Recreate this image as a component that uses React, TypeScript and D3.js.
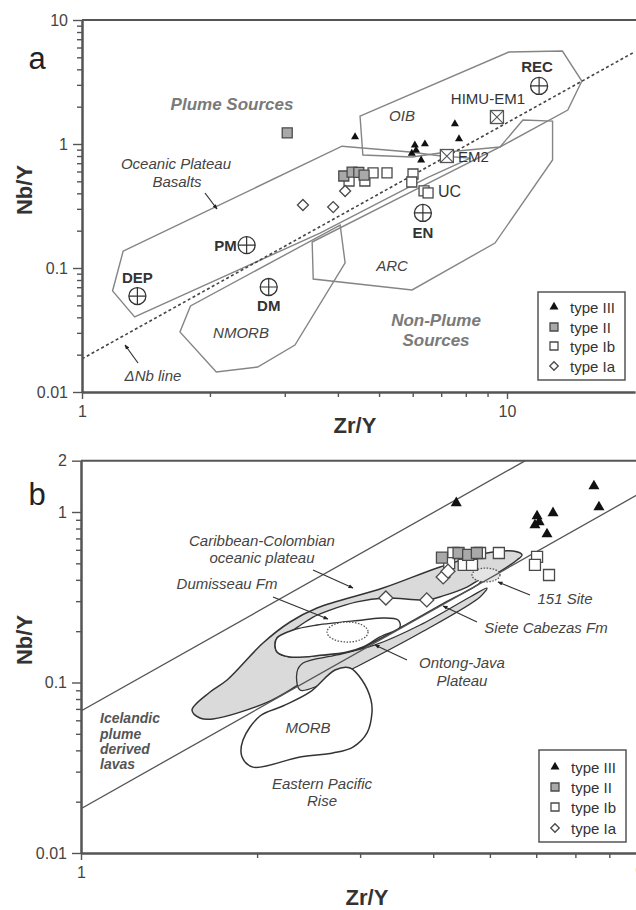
import React, { useEffect, useRef } from "react";
import * as d3 from "d3";

type Pt = [number, number];

// ---------------- Panel a : samples (Zr/Y, Nb/Y) ----------------
const aTypeIII: Pt[] = [[4.39, 1.14], [6.07, 0.98], [6.41, 1.0], [6.11, 0.89], [5.97, 0.84], [6.28, 0.74], [7.54, 1.45], [7.71, 1.1]];
const aTypeII: Pt[] = [[3.04, 1.23], [4.13, 0.552], [4.32, 0.594], [4.48, 0.59], [4.61, 0.562]];
const aTypeIb: Pt[] = [[4.25, 0.503], [4.63, 0.503], [4.84, 0.584], [5.22, 0.584], [6.01, 0.573], [5.97, 0.494], [6.38, 0.418]];
const aTypeIa: Pt[] = [[3.31, 0.322], [3.9, 0.31], [4.16, 0.418]];

// reference reservoirs (panel a)
const refCircleNames = ["REC", "EN", "PM", "DEP", "DM"];
const refCircleZrY = [11.9, 6.34, 2.44, 1.35, 2.75];
const refCircleNbY = [2.94, 0.278, 0.153, 0.0594, 0.0703];
const refBoxNames = ["HIMU-EM1", "EM2"];
const refBoxZrY = [9.47, 7.22];
const refBoxNbY = [1.65, 0.8];
const refSquareNames = ["UC"];
const refSquareZrY = [6.52];
const refSquareNbY = [0.403];

// fields (panel a)
const aOIB: Pt[] = [[4.51, 1.68], [10.1, 5.52], [13.5, 5.62], [15.0, 3.22], [13.9, 1.88], [9.63, 0.946], [7.22, 0.862], [5.98, 0.785], [4.58, 0.815]];
const aOPB: Pt[] = [[1.25, 0.137], [4.09, 0.96], [5.91, 0.862], [7.0, 0.8], [8.2, 0.77], [6.48, 0.532], [3.63, 0.191], [1.33, 0.0403], [1.18, 0.0653]];
const aARC: Pt[] = [[3.48, 0.162], [3.5, 0.0815], [5.98, 0.0665], [9.37, 0.159], [12.8, 0.743], [12.8, 1.53], [10.9, 1.56], [9.63, 0.946], [6.48, 0.476]];
const aNMORB: Pt[] = [[1.8, 0.0494], [1.7, 0.0305], [2.07, 0.0145], [2.59, 0.0159], [3.17, 0.0239], [4.16, 0.11], [4.05, 0.222]];
const aDeltaNb: Pt[] = [[1, 0.0185], [20, 5.55]];

// ---------------- Panel b : samples ----------------
const bTypeIII: Pt[] = [[4.38, 1.13], [7.53, 1.42], [7.68, 1.07], [6.41, 0.987], [6.02, 0.947], [6.07, 0.874], [5.97, 0.839], [6.26, 0.743]];
const bTypeII: Pt[] = [[4.14, 0.54], [4.42, 0.575], [4.59, 0.56], [4.75, 0.575]];
const bTypeIb: Pt[] = [[4.33, 0.575], [4.26, 0.502], [4.51, 0.489], [4.66, 0.489], [4.81, 0.575], [5.18, 0.575], [6.02, 0.545], [5.97, 0.489], [6.31, 0.427]];
const bTypeIa: Pt[] = [[3.32, 0.313], [3.9, 0.305], [4.16, 0.416], [4.24, 0.45]];

// fields (panel b)
const bIceUpper: Pt[] = [[1, 0.068], [5.75, 2]];
const bIceLower: Pt[] = [[1, 0.0182], [9, 1.28]];
const bCaribbean: Pt[] = [[1.548, 0.069], [1.662, 0.088], [1.777, 0.1034], [2.047, 0.1705], [2.277, 0.2264], [2.532, 0.2735], [3.283, 0.358], [4.109, 0.476], [4.943, 0.575], [5.476, 0.59], [5.673, 0.56], [5.563, 0.523], [5.2, 0.447], [4.5, 0.34], [3.51, 0.21], [2.8, 0.137], [2.368, 0.098], [2.08, 0.0765], [1.681, 0.0611], [1.597, 0.0619]];
const bOntongJava: Pt[] = [[2.34, 0.1152], [2.396, 0.1301], [2.74, 0.145], [3.182, 0.166], [3.798, 0.2174], [4.624, 0.3173], [4.943, 0.358], [4.809, 0.3173], [3.798, 0.195], [2.999, 0.1266], [2.562, 0.0967], [2.368, 0.0904]];
const bSieteCabezas: Pt[] = [[4.809, 0.4], [4.569, 0.363], [4.157, 0.322], [3.904, 0.305], [3.308, 0.313], [2.963, 0.297], [2.665, 0.266], [2.493, 0.242], [2.304, 0.2032], [2.163, 0.1824], [2.146, 0.166], [2.163, 0.151], [2.277, 0.1411], [2.593, 0.145], [2.85, 0.151], [3.034, 0.1615], [3.5, 0.208], [4.2, 0.296], [4.809, 0.385]];
const bDumisseau: Pt[] = [[2.163, 0.1824], [2.304, 0.2032], [2.532, 0.2174], [3.034, 0.2326], [3.283, 0.239], [3.483, 0.2326], [3.51, 0.2116], [3.244, 0.1849], [3.034, 0.1615], [2.85, 0.151], [2.593, 0.145], [2.277, 0.1411], [2.163, 0.151], [2.146, 0.166]];
const bMORB: Pt[] = [[1.968, 0.0319], [1.885, 0.0366], [1.892, 0.046], [2.023, 0.0636], [2.214, 0.0728], [2.464, 0.088], [2.718, 0.1184], [2.884, 0.1216], [3.022, 0.1034], [3.131, 0.079], [3.143, 0.0662], [3.083, 0.0506], [2.917, 0.0418], [2.697, 0.0386], [2.368, 0.0366]];
// dotted ellipses: [xmin, xmax], [ymin, ymax]
const b151SiteX: Pt = [4.66, 5.203];
const b151SiteY: Pt = [0.389, 0.469];
const bDumEllX: Pt = [2.634, 3.095];
const bDumEllY: Pt = [0.1727, 0.2264];

const legendNames = ["type III", "type II", "type Ib", "type Ia"];
const yTickLabelsA = [0.01, 0.1, 1, 10];
const xTickLabelsA = [1, 10];
const yTickLabelsB = [0.01, 0.1, 1, 2];
const xTickLabelsB = [1, 9];

const FONT = "'Liberation Sans', Arial, Helvetica, sans-serif";

const labelLayout: Record<string, { dx: number; dy: number; anchor: string; bold: boolean }> = {
  REC: { dx: -2, dy: -19, anchor: "middle", bold: true },
  EN: { dx: 0, dy: 20, anchor: "middle", bold: true },
  PM: { dx: -10, dy: 0, anchor: "end", bold: true },
  DEP: { dx: 0, dy: -19, anchor: "middle", bold: true },
  DM: { dx: 0, dy: 19, anchor: "middle", bold: true },
  "HIMU-EM1": { dx: -9, dy: -19, anchor: "middle", bold: false },
  EM2: { dx: 11, dy: 0, anchor: "start", bold: false },
  UC: { dx: 10, dy: -1, anchor: "start", bold: false },
};

export default function App() {
  const ref = useRef<SVGSVGElement>(null);

  useEffect(() => {
    const svg = d3.select(ref.current as SVGSVGElement);
    svg.selectAll("*").remove();
    const defs = svg.append("defs");
    defs
      .append("marker")
      .attr("id", "ah")
      .attr("viewBox", "0 0 10 10")
      .attr("refX", 9)
      .attr("refY", 5)
      .attr("markerWidth", 5)
      .attr("markerHeight", 5)
      .attr("markerUnits", "userSpaceOnUse")
      .attr("orient", "auto")
      .append("path")
      .attr("d", "M0,1L10,5L0,9z")
      .attr("fill", "#222");

    const text = (g: any, x: number, y: number, s: string, o: any = {}) =>
      g
        .append("text")
        .attr("x", x)
        .attr("y", y)
        .attr("text-anchor", o.anchor || "middle")
        .attr("dominant-baseline", "central")
        .attr("font-family", FONT)
        .attr("font-size", o.size || 15)
        .attr("font-weight", o.bold ? "bold" : "normal")
        .attr("font-style", o.italic ? "italic" : "normal")
        .attr("fill", o.fill || "#333")
        .text(s);

    const arrow = (g: any, x1: number, y1: number, x2: number, y2: number) =>
      g
        .append("line")
        .attr("x1", x1)
        .attr("y1", y1)
        .attr("x2", x2)
        .attr("y2", y2)
        .attr("stroke", "#333")
        .attr("stroke-width", 1.2)
        .attr("marker-end", "url(#ah)");

    const sym = (type: any, size: number) => d3.symbol().type(type).size(size)() as string;

    const drawPts = (g: any, pts: Pt[], x: any, y: any, kind: string, w: number) => {
      const d =
        kind === "tri"
          ? sym(d3.symbolTriangle, 0.433 * w * w)
          : kind === "dia"
          ? sym(d3.symbolSquare, (w * w) / 2)
          : sym(d3.symbolSquare, w * w);
      g.selectAll(null)
        .data(pts)
        .join("path")
        .attr("transform", (p: Pt) => `translate(${x(p[0])},${y(p[1])})` + (kind === "dia" ? " rotate(45)" : ""))
        .attr("d", d)
        .attr("fill", kind === "tri" ? "#111" : kind === "grey" ? "#a9a9a9" : "#fff")
        .attr("stroke", kind === "tri" ? "none" : "#4a4a4a")
        .attr("stroke-width", 1.3);
    };

    const drawAxes = (g: any, x: any, y: any, x0: number, yb: number, xLab: number[], yLab: number[], xMax: number) => {
      const st = (sel: any) => {
        sel.select(".domain").attr("stroke", "#555").attr("stroke-width", 2);
        sel.selectAll(".tick line").attr("stroke", "#555").attr("stroke-width", 1.4);
        sel.selectAll(".tick text").attr("fill", "#444").attr("font-size", 16).attr("font-family", FONT);
      };
      const yt = y.ticks().filter((t: number) => !yLab.includes(t));
      const xt = x.ticks().filter((t: number) => !xLab.includes(t) && t <= xMax);
      g.append("g").attr("transform", `translate(${x0},0)`).call(d3.axisLeft(y).tickValues(yt).tickSize(5).tickSizeOuter(0).tickFormat(() => "")).call(st);
      g.append("g").attr("transform", `translate(${x0},0)`).call(d3.axisLeft(y).tickValues(yLab).tickSize(9).tickSizeOuter(0).tickPadding(5).tickFormat((d: any) => String(d))).call(st);
      g.append("g").attr("transform", `translate(0,${yb})`).call(d3.axisBottom(x).tickValues(xt).tickSize(5).tickSizeOuter(0).tickFormat(() => "")).call(st);
      g.append("g").attr("transform", `translate(0,${yb})`).call(d3.axisBottom(x).tickValues(xLab).tickSize(7).tickSizeOuter(0).tickPadding(7).tickFormat((d: any) => String(d))).call(st);
    };

    const legend = (g: any, x0: number, y0: number, w: number, h: number, rows: number[], size: number) => {
      g.append("rect").attr("x", x0).attr("y", y0).attr("width", w).attr("height", h).attr("fill", "#fff").attr("stroke", "#555").attr("stroke-width", 1.5);
      const kinds = ["tri", "grey", "open", "dia"];
      legendNames.forEach((n, i) => {
        const sx = x0 + 16;
        const sy = rows[i];
        const k = kinds[i];
        const d = k === "tri" ? sym(d3.symbolTriangle, 0.433 * 81) : k === "dia" ? sym(d3.symbolSquare, 36) : sym(d3.symbolSquare, 64);
        g.append("path")
          .attr("d", d)
          .attr("transform", `translate(${sx},${sy})` + (k === "dia" ? " rotate(45)" : ""))
          .attr("fill", k === "tri" ? "#111" : k === "grey" ? "#a9a9a9" : "#fff")
          .attr("stroke", k === "tri" ? "none" : "#4a4a4a")
          .attr("stroke-width", 1.3);
        text(g, x0 + 32, sy, n, { anchor: "start", size: 15, fill: "#333" });
      });
    };

    // ================= Panel a =================
    const xa = d3.scaleLog().domain([1, 20]).range([82, 82 + 425 * Math.log10(20)]);
    const ya = d3.scaleLog().domain([0.01, 10]).range([392, 20]);
    defs.append("clipPath").attr("id", "clipA").append("rect").attr("x", 82).attr("y", 20).attr("width", 600).attr("height", 372);
    const ga = svg.append("g");
    const pa = ga.append("g").attr("clip-path", "url(#clipA)");
    const lineA = d3.line<Pt>().x((d) => xa(d[0])).y((d) => ya(d[1]));
    [aOIB, aOPB, aARC, aNMORB].forEach((poly) =>
      pa.append("path").attr("d", lineA.curve(d3.curveLinearClosed)(poly)).attr("fill", "none").attr("stroke", "#858585").attr("stroke-width", 1.4)
    );
    pa.append("path")
      .attr("d", d3.line<Pt>().x((d) => xa(d[0])).y((d) => ya(d[1]))(aDeltaNb))
      .attr("fill", "none")
      .attr("stroke", "#444")
      .attr("stroke-width", 1.6)
      .attr("stroke-dasharray", "3,2.5");

    // region labels
    text(pa, 232, 104, "Plume Sources", { size: 17, bold: true, italic: true, fill: "#7a7a7a" });
    text(pa, 436, 320, "Non-Plume", { size: 17, bold: true, italic: true, fill: "#7a7a7a" });
    text(pa, 436, 340, "Sources", { size: 17, bold: true, italic: true, fill: "#7a7a7a" });
    text(pa, 176, 163, "Oceanic Plateau", { italic: true, fill: "#444" });
    text(pa, 177, 181, "Basalts", { italic: true, fill: "#444" });
    arrow(pa, 205, 193, 217, 209);
    text(pa, 402, 115, "OIB", { italic: true, fill: "#444" });
    text(pa, 241, 332, "NMORB", { italic: true, fill: "#444" });
    text(pa, 392, 265, "ARC", { italic: true, fill: "#444" });
    text(pa, 153, 375, "\u0394Nb line", { italic: true, fill: "#444" });
    arrow(pa, 138, 363, 125, 345);

    // samples
    drawPts(pa, aTypeIb, xa, ya, "open", 10);
    drawPts(pa, aTypeII, xa, ya, "grey", 10);
    drawPts(pa, aTypeIa, xa, ya, "dia", 11);
    drawPts(pa, aTypeIII, xa, ya, "tri", 8);

    // reference reservoirs
    refCircleNames.forEach((n, i) => {
      const cx = xa(refCircleZrY[i]);
      const cy = ya(refCircleNbY[i]);
      pa.append("circle").attr("cx", cx).attr("cy", cy).attr("r", 8.5).attr("fill", "none").attr("stroke", "#333").attr("stroke-width", 1.3);
      pa.append("path").attr("d", `M${cx - 8.5},${cy}H${cx + 8.5}M${cx},${cy - 8.5}V${cy + 8.5}`).attr("stroke", "#333").attr("stroke-width", 1.2);
      const L = labelLayout[n];
      text(pa, cx + L.dx, cy + L.dy, n, { anchor: L.anchor, bold: L.bold, fill: "#333" });
    });
    refBoxNames.forEach((n, i) => {
      const cx = xa(refBoxZrY[i]);
      const cy = ya(refBoxNbY[i]);
      pa.append("rect").attr("x", cx - 6.5).attr("y", cy - 6.5).attr("width", 13).attr("height", 13).attr("fill", "#fff").attr("stroke", "#555").attr("stroke-width", 1.3);
      pa.append("path").attr("d", `M${cx - 6.5},${cy - 6.5}L${cx + 6.5},${cy + 6.5}M${cx + 6.5},${cy - 6.5}L${cx - 6.5},${cy + 6.5}`).attr("stroke", "#555").attr("stroke-width", 1.1);
      const L = labelLayout[n];
      text(pa, cx + L.dx, cy + L.dy, n, { anchor: L.anchor, bold: L.bold, fill: "#333" });
    });
    refSquareNames.forEach((n, i) => {
      const cx = xa(refSquareZrY[i]);
      const cy = ya(refSquareNbY[i]);
      pa.append("rect").attr("x", cx - 5).attr("y", cy - 5).attr("width", 10).attr("height", 10).attr("fill", "#fff").attr("stroke", "#4a4a4a").attr("stroke-width", 1.3);
      const L = labelLayout[n];
      text(pa, cx + L.dx, cy + L.dy, n, { anchor: L.anchor, bold: L.bold, fill: "#333", size: 16 });
    });

    legend(pa, 538, 292, 87, 88, [307, 327, 346, 366], 9);

    ga.append("line").attr("x1", 82).attr("x2", 700).attr("y1", 20).attr("y2", 20).attr("stroke", "#555").attr("stroke-width", 2);
    drawAxes(ga, xa, ya, 82, 392, xTickLabelsA, yTickLabelsA, 10);
    text(ga, 355, 425, "Zr/Y", { size: 22, bold: true, fill: "#333" });
    ga.append("text")
      .attr("transform", "translate(24,190) rotate(-90)")
      .attr("text-anchor", "middle")
      .attr("dominant-baseline", "central")
      .attr("font-family", FONT)
      .attr("font-size", 22)
      .attr("font-weight", "bold")
      .attr("fill", "#333")
      .text("Nb/Y");
    text(ga, 37, 58, "a", { size: 31, fill: "#222" });

    // ================= Panel b =================
    const xb = d3.scaleLog().domain([1, 9]).range([81, 81 + 585 * Math.log10(9)]);
    const yb = d3.scaleLog().domain([0.01, 2]).range([853, 853 - 170.5 * Math.log10(200)]);
    const yTop = yb(2);
    defs.append("clipPath").attr("id", "clipB").append("rect").attr("x", 81).attr("y", yTop).attr("width", 600).attr("height", 853 - yTop);
    const gb = svg.append("g");
    const pb = gb.append("g").attr("clip-path", "url(#clipB)");
    const smooth = d3.line<Pt>().x((d) => xb(d[0])).y((d) => yb(d[1])).curve(d3.curveCatmullRomClosed.alpha(0.5));
    const straight = d3.line<Pt>().x((d) => xb(d[0])).y((d) => yb(d[1]));

    pb.append("path").attr("d", smooth(bCaribbean)).attr("fill", "#dadada").attr("stroke", "#333").attr("stroke-width", 1.5);
    pb.append("path").attr("d", smooth(bOntongJava)).attr("fill", "#dadada").attr("stroke", "#333").attr("stroke-width", 1.3);
    pb.append("path").attr("d", smooth(bSieteCabezas)).attr("fill", "#fff").attr("stroke", "#333").attr("stroke-width", 1.4);
    pb.append("path").attr("d", smooth(bDumisseau)).attr("fill", "#fff").attr("stroke", "#333").attr("stroke-width", 1.4);
    pb.append("path").attr("d", smooth(bMORB)).attr("fill", "#fff").attr("stroke", "#333").attr("stroke-width", 1.5);

    const ellipse = (ex: Pt, ey: Pt, fill: string) => {
      const x1 = xb(ex[0]), x2 = xb(ex[1]), y1 = yb(ey[1]), y2 = yb(ey[0]);
      pb.append("ellipse")
        .attr("cx", (x1 + x2) / 2)
        .attr("cy", (y1 + y2) / 2)
        .attr("rx", (x2 - x1) / 2)
        .attr("ry", (y2 - y1) / 2)
        .attr("fill", fill)
        .attr("stroke", "#555")
        .attr("stroke-width", 1.3)
        .attr("stroke-dasharray", "1.5,1.5");
    };
    ellipse(bDumEllX, bDumEllY, "#fff");
    ellipse(b151SiteX, b151SiteY, "#e4e4e4");

    [bIceUpper, bIceLower].forEach((l) =>
      pb.append("path").attr("d", straight(l)).attr("fill", "none").attr("stroke", "#555").attr("stroke-width", 1.3)
    );

    // labels
    text(pb, 262, 540, "Caribbean-Colombian", { italic: true, fill: "#444" });
    text(pb, 262, 557, "oceanic plateau", { italic: true, fill: "#444" });
    arrow(pb, 313, 570, 353, 588);
    text(pb, 227, 583, "Dumisseau Fm", { italic: true, fill: "#444" });
    arrow(pb, 273, 597, 328, 619);
    text(pb, 565, 598, "151 Site", { italic: true, fill: "#444" });
    arrow(pb, 530, 595, 498, 582);
    text(pb, 546, 627, "Siete Cabezas Fm", { italic: true, fill: "#444" });
    arrow(pb, 477, 622, 443, 606);
    text(pb, 462, 662, "Ontong-Java", { italic: true, fill: "#444" });
    text(pb, 462, 680, "Plateau", { italic: true, fill: "#444" });
    arrow(pb, 407, 660, 375, 645);
    text(pb, 308, 727, "MORB", { italic: true, fill: "#444" });
    text(pb, 322, 783, "Eastern Pacific", { italic: true, fill: "#444" });
    text(pb, 322, 800, "Rise", { italic: true, fill: "#444" });
    ["Icelandic", "plume", "derived", "lavas"].forEach((s, i) =>
      text(pb, 100, [718, 734, 749, 764][i], s, { anchor: "start", size: 14, bold: true, italic: true, fill: "#555" })
    );

    drawPts(pb, bTypeIb, xb, yb, "open", 11);
    drawPts(pb, bTypeII, xb, yb, "grey", 11);
    drawPts(pb, bTypeIa, xb, yb, "dia", 14);
    drawPts(pb, bTypeIII, xb, yb, "tri", 11);

    legend(pb, 539, 750, 87, 92, [767, 787, 807, 828], 9);

    gb.append("line").attr("x1", 81).attr("x2", 700).attr("y1", yTop).attr("y2", yTop).attr("stroke", "#555").attr("stroke-width", 2);
    drawAxes(gb, xb, yb, 81, 853, xTickLabelsB, yTickLabelsB, 9);
    text(gb, 367, 897, "Zr/Y", { size: 22, bold: true, fill: "#333" });
    gb.append("text")
      .attr("transform", "translate(24,640) rotate(-90)")
      .attr("text-anchor", "middle")
      .attr("dominant-baseline", "central")
      .attr("font-family", FONT)
      .attr("font-size", 22)
      .attr("font-weight", "bold")
      .attr("fill", "#333")
      .text("Nb/Y");
    text(gb, 37, 494, "b", { size: 31, fill: "#222" });
  }, []);

  return (
    <svg
      ref={ref}
      width={636}
      height={910}
      style={{ position: "absolute", left: 0, top: 0, background: "#fff" }}
    />
  );
}
